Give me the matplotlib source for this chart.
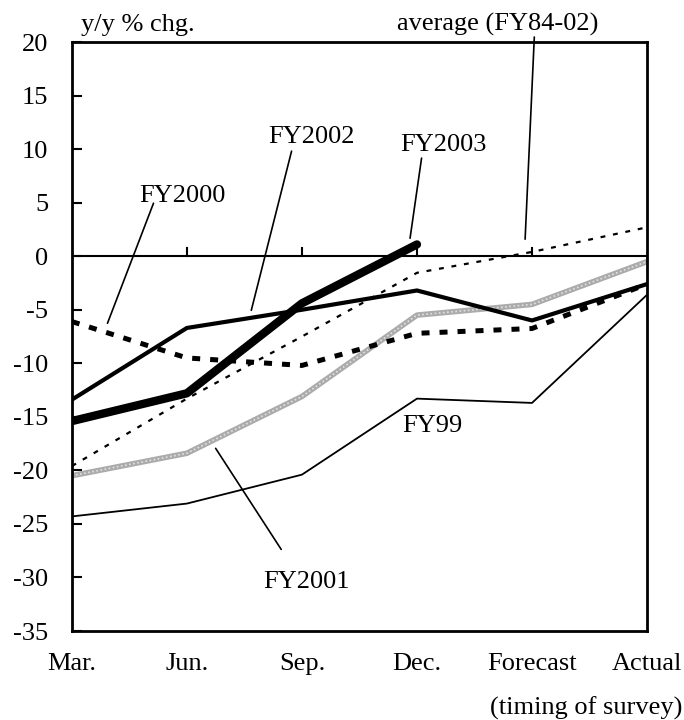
#!/usr/bin/env python3
"""Business survey: y/y % change of planned investment by timing of survey."""

import numpy as np
import matplotlib
matplotlib.use('Agg')
import matplotlib.pyplot as plt

# timing of survey
categories = ['Mar.', 'Jun.', 'Sep.', 'Dec.', 'Forecast', 'Actual']

# y/y % chg. by fiscal year
fy99 = [-24.3, -23.1, -20.4, -13.3, -13.7, -3.6]
fy2000 = [-6.1, -9.5, -10.2, -7.2, -6.75, -2.6]
fy2001 = [-20.5, -18.4, -13.1, -5.5, -4.5, -0.5]
fy2002 = [-13.4, -6.7, -5.0, -3.2, -6.0, -2.6]
fy2003 = [-15.4, -12.8, -4.4, 1.1]
average = [-19.6, -13.3, -7.5, -1.55, 0.4, 2.7]

yticks = list(range(-35, 25, 5))

plt.rcParams['font.family'] = ['Liberation Serif', 'DejaVu Serif']
plt.rcParams['font.size'] = 19

fig = plt.figure(figsize=(6.84, 7.2), dpi=100)
ax = fig.add_axes([0.105, 0.1236, 0.841, 0.818])

x = np.arange(len(categories))

ax.axhline(0, color='black', lw=1.5, zorder=1)
# small ticks on the zero line
for i in x[1:-1]:
    ax.plot([i, i], [0, 0.75], color='black', lw=1.5, zorder=1)

ax.plot(x, fy99, color='black', lw=1.3, zorder=3)
ax.plot(x, fy2001, color='#ababab', lw=4, zorder=2)
ax.plot(x, fy2001, color='#e2e2e2', lw=1.2, dashes=(1, 1.5), zorder=2)
ax.plot(x, average, color='black', lw=1.6, dashes=(2.2, 3.5), zorder=3)
ax.plot(x, fy2000, color='black', lw=3.6, dashes=(1.6, 2.0), zorder=3)
ax.plot(x, fy2002, color='black', lw=3.0, zorder=4)
ax.plot(x[:len(fy2003)], fy2003, color='black', lw=6.0,
        solid_capstyle='round', zorder=5)

ax.set_xlim(0, len(categories) - 1)
ax.set_ylim(-35, 20)
ax.set_yticks(yticks)
ax.set_yticklabels([str(v) for v in yticks])
ax.set_xticks(x)
ax.set_xticklabels(categories)
ax.tick_params(axis='y', direction='in', length=7, width=1.5, pad=17)
ax.tick_params(axis='x', length=0, pad=16)
for s in ax.spines.values():
    s.set_linewidth(2)


def label(text, pos, line_from, line_to):
    ax.text(pos[0], pos[1], text, ha='center', va='center')
    if line_from is not None:
        ax.annotate('', xy=line_to, xytext=line_from, annotation_clip=False,
                    arrowprops=dict(arrowstyle='-', color='black', lw=1.2,
                                    shrinkA=0, shrinkB=0))


label('FY2000', (0.96, 5.6), (0.71, 4.95), (0.31, -6.26))
label('FY2002', (2.08, 11.1), (1.91, 9.81), (1.56, -5.05))
label('FY2003', (3.23, 10.4), (3.04, 9.16), (2.94, 1.68))
label('average (FY84-02)', (3.70, 21.6), (4.02, 20.47), (3.94, 1.59))
label('FY2001', (2.04, -30.4), (1.25, -17.94), (1.82, -27.38))
label('FY99', (3.13, -15.9), None, None)

ax.annotate('y/y % chg.', xy=(0.08, 21.6), xycoords='data', ha='left',
            va='center', annotation_clip=False)
fig.text(0.998, 0.016, '(timing of survey)', ha='right', va='center')

fig.savefig('out.png', dpi=100)
